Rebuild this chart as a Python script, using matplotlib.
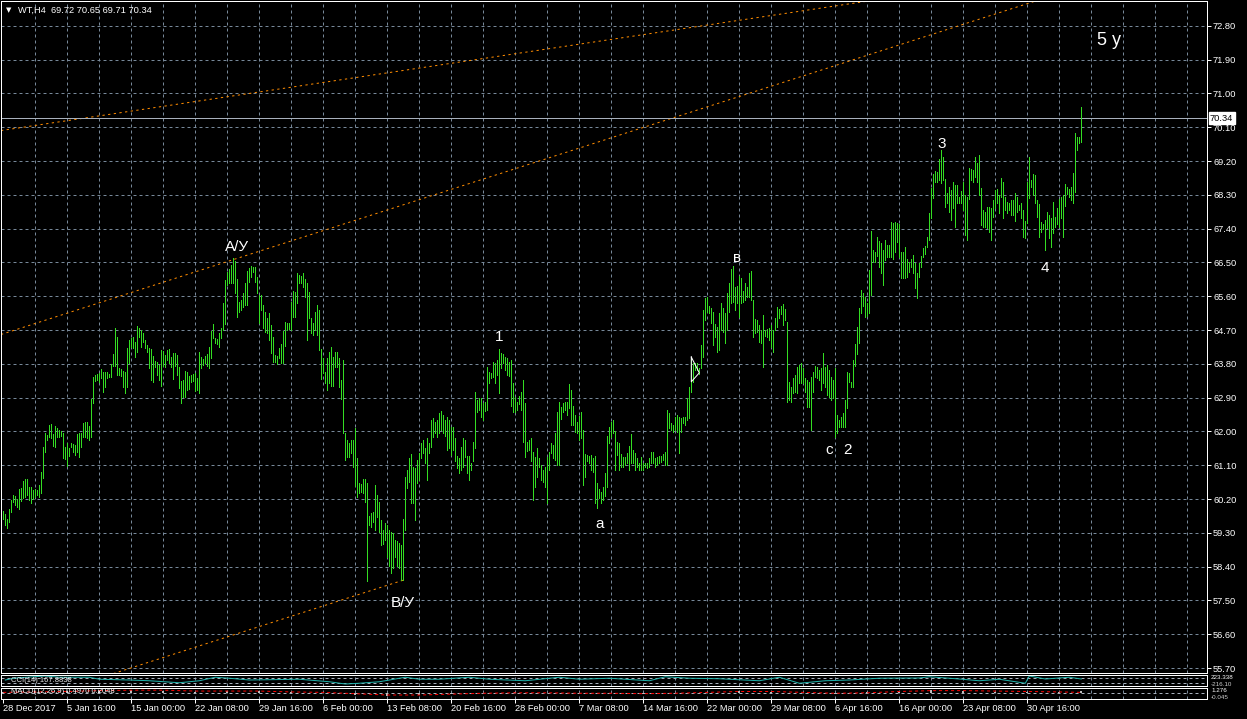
import matplotlib
matplotlib.use("Agg")
import matplotlib.pyplot as plt
import matplotlib.transforms as mtransforms

# ---- data (H4 bars) ----
bar_high = [
    59.88, 59.80, 59.67, 59.94, 60.18, 60.31, 60.28, 60.20, 60.47, 60.50, 60.68, 60.73, 60.73, 60.52, 60.52, 60.44,
    60.47, 60.44, 60.57, 60.92, 61.59, 61.96, 61.91, 62.17, 62.20, 61.93, 62.15, 62.09, 62.04, 62.01, 61.96, 61.59,
    61.69, 61.56, 61.69, 61.67, 61.64, 61.93, 61.96, 61.96, 62.23, 62.25, 62.25, 62.15, 62.87, 63.45, 63.50, 63.53,
    63.56, 63.66, 63.58, 63.58, 63.58, 63.53, 63.80, 64.06, 64.76, 64.52, 63.69, 63.66, 63.61, 63.58, 64.22, 64.44,
    64.49, 64.52, 64.38, 64.81, 64.76, 64.70, 64.62, 64.44, 64.30, 64.22, 64.20, 64.01, 63.88, 63.85, 63.77, 64.17,
    64.14, 64.04, 64.17, 64.20, 63.98, 64.09, 64.09, 64.04, 63.72, 63.35, 63.37, 63.61, 63.58, 63.48, 63.50, 63.53,
    63.56, 63.43, 64.12, 63.98, 63.93, 64.01, 64.06, 64.25, 64.68, 64.86, 64.49, 64.46, 64.62, 64.76, 65.42, 66.03,
    66.25, 66.33, 66.44, 66.62, 66.54, 66.06, 65.45, 65.50, 65.69, 65.96, 66.28, 66.36, 66.41, 66.38, 66.38, 66.12,
    65.64, 65.64, 65.37, 65.18, 65.02, 65.16, 64.84, 64.52, 64.04, 64.01, 64.22, 64.33, 64.68, 64.92, 64.89, 64.89,
    65.45, 65.74, 65.72, 66.22, 66.17, 66.14, 66.22, 66.06, 65.96, 65.72, 65.02, 64.89, 65.18, 65.37, 65.24, 64.20,
    63.96, 63.58, 63.96, 64.12, 64.25, 63.98, 64.12, 64.12, 63.96, 63.37, 63.90, 61.96, 61.77, 61.69, 61.77, 61.77,
    62.09, 61.29, 60.63, 60.60, 60.73, 60.73, 60.63, 59.75, 59.83, 59.86, 60.57, 60.31, 60.12, 59.64, 59.38, 59.56,
    59.51, 59.38, 59.32, 59.30, 59.11, 59.08, 59.03, 58.98, 59.67, 60.79, 60.97, 61.29, 61.40, 61.05, 61.03, 61.24,
    61.43, 61.69, 61.77, 61.56, 61.83, 61.69, 62.31, 62.36, 62.25, 62.31, 62.49, 62.55, 62.44, 62.31, 62.39, 62.31,
    62.12, 62.12, 61.83, 61.35, 61.29, 61.59, 61.83, 61.77, 61.35, 61.35, 61.16, 61.72, 63.05, 62.84, 62.89, 62.89,
    62.76, 62.79, 63.72, 63.58, 63.56, 63.85, 63.82, 63.90, 64.20, 64.09, 64.06, 63.98, 63.96, 63.85, 63.90, 63.29,
    62.92, 62.79, 62.95, 63.05, 63.37, 62.76, 61.72, 61.77, 61.83, 61.45, 61.32, 61.56, 61.29, 61.11, 60.97, 61.05,
    61.32, 61.45, 61.69, 61.64, 61.96, 62.52, 62.79, 62.65, 62.76, 62.79, 62.79, 63.27, 63.11, 62.68, 62.44, 62.25,
    62.41, 62.52, 62.04, 61.40, 61.37, 61.35, 61.37, 61.29, 61.35, 60.63, 60.47, 60.39, 60.52, 60.89, 61.88, 62.12,
    62.25, 62.31, 62.00, 61.72, 61.69, 61.40, 61.32, 61.32, 61.43, 61.61, 61.93, 61.51, 61.43, 61.29, 61.16, 61.32,
    61.16, 61.16, 61.16, 61.29, 61.45, 61.45, 61.29, 61.32, 61.35, 61.35, 61.40, 61.45, 62.57, 62.49, 62.23, 62.17,
    62.39, 62.44, 62.39, 62.36, 62.39, 62.39, 62.89, 63.19, 63.98, 63.82, 63.82, 63.82, 63.69, 64.30, 65.24, 65.56,
    65.58, 65.34, 65.29, 65.18, 64.86, 64.78, 65.16, 65.42, 65.29, 65.16, 65.69, 65.96, 66.33, 66.41, 65.85, 65.88,
    66.14, 66.09, 65.74, 65.96, 65.85, 66.22, 66.28, 65.50, 65.00, 64.97, 64.84, 64.70, 65.10, 64.70, 64.73, 64.76,
    64.84, 64.70, 65.02, 65.32, 65.26, 65.34, 65.40, 65.26, 64.92, 63.32, 63.19, 63.43, 63.50, 63.72, 63.77, 63.82,
    63.69, 63.43, 63.37, 63.32, 63.45, 63.58, 63.74, 63.72, 63.64, 63.69, 64.09, 63.72, 63.77, 63.64, 63.45, 63.37,
    63.69, 62.44, 62.31, 62.39, 62.49, 62.84, 63.58, 63.56, 63.32, 63.90, 64.33, 64.78, 65.29, 65.77, 65.69, 65.58,
    65.42, 66.30, 67.34, 66.84, 66.78, 67.18, 67.08, 67.02, 66.84, 67.10, 66.97, 66.97, 67.58, 67.55, 67.58, 67.55,
    67.53, 66.78, 66.78, 66.92, 66.60, 66.52, 66.60, 66.70, 66.49, 66.22, 66.49, 66.68, 66.89, 66.94, 67.18, 67.82,
    68.49, 68.86, 68.94, 68.92, 69.24, 69.50, 69.31, 68.73, 68.36, 68.51, 68.43, 68.65, 68.57, 68.57, 68.25, 68.41,
    68.65, 68.30, 68.25, 69.02, 69.00, 68.97, 69.31, 69.15, 69.37, 68.49, 67.90, 67.85, 67.98, 67.98, 67.95, 68.17,
    68.43, 68.46, 68.30, 68.75, 68.65, 68.25, 68.12, 68.09, 68.17, 68.17, 68.36, 68.25, 68.03, 68.09, 67.90, 67.61,
    68.65, 69.31, 68.70, 68.86, 68.84, 68.17, 68.06, 67.58, 67.53, 67.63, 67.85, 67.77, 67.69, 68.12, 67.71, 67.95,
    68.19, 68.25, 68.30, 68.59, 68.51, 68.46, 68.51, 68.89, 69.95, 69.85, 69.85, 70.65,
]
bar_low = [
    59.67, 59.50, 59.43, 59.59, 59.86, 60.12, 60.04, 59.99, 59.94, 60.15, 60.23, 60.26, 60.31, 60.18, 60.10, 60.20,
    60.26, 60.31, 60.26, 60.36, 60.76, 61.45, 61.77, 61.85, 61.83, 61.61, 61.59, 61.85, 61.85, 61.88, 61.29, 61.27,
    61.08, 61.35, 61.59, 61.45, 61.37, 61.45, 61.32, 61.59, 61.85, 61.85, 61.83, 61.77, 61.85, 62.76, 63.35, 63.37,
    63.32, 63.43, 63.05, 63.19, 63.43, 63.45, 63.45, 63.74, 63.74, 63.50, 63.50, 63.48, 63.19, 63.03, 63.19, 63.82,
    64.25, 64.22, 63.98, 64.12, 64.52, 64.25, 64.38, 64.22, 64.12, 63.69, 63.37, 63.32, 63.72, 63.50, 63.37, 63.21,
    63.74, 63.72, 63.90, 63.82, 63.72, 63.40, 63.74, 63.50, 63.16, 62.76, 62.92, 62.92, 63.11, 63.13, 63.32, 63.35,
    63.08, 63.11, 63.03, 63.69, 63.77, 63.82, 63.74, 63.69, 63.96, 64.49, 64.36, 64.33, 64.25, 64.49, 64.70, 64.86,
    65.90, 65.96, 65.96, 65.96, 65.69, 65.05, 65.18, 65.24, 65.32, 65.37, 65.37, 65.98, 66.12, 66.25, 65.98, 65.69,
    64.89, 65.24, 64.76, 64.65, 64.62, 64.44, 64.09, 63.85, 63.85, 63.80, 63.96, 63.82, 63.82, 64.28, 64.70, 64.73,
    64.70, 65.05, 65.05, 65.42, 65.96, 65.96, 65.85, 65.58, 64.44, 65.02, 64.62, 64.57, 64.70, 64.57, 64.17, 63.40,
    63.56, 63.29, 63.11, 63.29, 63.21, 63.21, 63.72, 63.72, 63.19, 62.87, 61.96, 61.24, 61.32, 61.32, 61.43, 61.05,
    60.55, 60.26, 60.36, 60.39, 60.36, 60.12, 58.02, 59.51, 59.46, 59.59, 59.38, 59.72, 59.32, 58.98, 59.00, 59.11,
    58.66, 58.42, 58.23, 58.36, 58.66, 58.42, 58.36, 58.04, 58.04, 59.38, 60.49, 60.65, 60.10, 60.10, 59.64, 60.63,
    60.71, 61.29, 61.43, 61.16, 60.71, 61.43, 61.59, 61.85, 61.96, 61.85, 61.96, 62.04, 61.96, 61.88, 61.51, 61.56,
    61.37, 61.51, 61.21, 61.03, 60.89, 60.97, 61.05, 61.32, 60.89, 60.71, 60.97, 61.21, 61.56, 62.52, 62.57, 62.39,
    62.31, 62.55, 62.57, 63.29, 63.43, 63.45, 63.29, 63.50, 63.03, 63.69, 63.82, 63.64, 63.50, 63.48, 62.68, 62.52,
    62.52, 62.57, 62.73, 62.57, 61.72, 61.32, 61.48, 61.51, 61.21, 60.18, 60.52, 60.79, 61.05, 60.71, 60.65, 60.52,
    60.10, 60.97, 61.43, 61.29, 61.24, 61.11, 61.11, 62.33, 62.52, 62.57, 62.44, 62.63, 62.17, 62.17, 61.99, 61.96,
    61.77, 61.83, 60.57, 60.79, 61.21, 61.16, 60.97, 60.92, 60.10, 59.96, 60.23, 60.10, 60.18, 60.28, 60.52, 61.69,
    61.85, 61.96, 60.98, 61.37, 60.97, 61.05, 61.05, 61.11, 61.16, 60.98, 61.16, 61.16, 60.98, 61.05, 60.98, 60.98,
    60.98, 61.05, 61.03, 61.05, 61.16, 61.16, 61.05, 61.11, 61.16, 61.19, 61.24, 61.11, 61.11, 62.09, 62.04, 61.99,
    62.04, 61.99, 61.43, 61.99, 62.23, 62.17, 62.31, 62.36, 63.05, 63.32, 63.64, 63.64, 63.53, 63.69, 63.98, 64.97,
    65.18, 65.16, 64.89, 64.30, 64.52, 64.12, 64.17, 64.70, 64.65, 64.36, 64.70, 65.18, 65.42, 65.45, 65.24, 65.42,
    65.05, 65.42, 65.45, 65.50, 65.58, 65.58, 65.50, 64.52, 64.62, 64.65, 64.38, 64.36, 63.72, 64.54, 64.52, 64.44,
    64.25, 64.12, 64.70, 64.78, 65.02, 65.13, 64.84, 64.97, 62.79, 62.84, 62.79, 63.03, 63.05, 63.03, 63.29, 63.29,
    63.29, 63.05, 62.65, 62.65, 62.04, 63.05, 63.45, 63.43, 63.37, 63.11, 63.29, 63.19, 62.97, 62.92, 62.84, 62.89,
    61.85, 61.96, 62.12, 62.12, 62.12, 62.12, 62.63, 63.32, 63.19, 63.19, 63.74, 64.06, 64.36, 65.16, 65.34, 65.05,
    65.08, 65.16, 65.64, 66.52, 66.52, 66.68, 66.38, 66.22, 65.90, 66.57, 66.65, 66.65, 66.65, 66.60, 66.78, 67.05,
    66.65, 66.09, 66.09, 66.09, 66.12, 66.25, 66.38, 66.22, 65.82, 65.56, 66.12, 66.38, 66.65, 66.73, 66.92, 67.10,
    67.69, 68.22, 68.65, 68.65, 68.70, 68.62, 68.70, 67.98, 68.09, 67.85, 67.63, 67.95, 67.45, 68.09, 68.09, 68.09,
    67.90, 67.24, 67.10, 68.19, 68.70, 68.65, 68.78, 68.65, 68.30, 67.50, 67.45, 67.45, 67.42, 67.32, 67.10, 67.71,
    67.95, 68.09, 67.82, 68.25, 67.69, 67.90, 67.82, 67.90, 67.77, 67.77, 67.61, 67.85, 67.90, 67.69, 67.18, 67.15,
    67.55, 68.22, 68.51, 68.30, 68.09, 67.71, 67.18, 67.32, 67.40, 66.84, 67.42, 67.15, 66.92, 67.29, 67.45, 67.53,
    67.45, 67.69, 67.18, 68.01, 68.33, 68.25, 68.17, 68.09, 68.38, 69.50, 69.69, 69.71,
]
last_price = 70.34
header = "WT,H4  69.72 70.65 69.71 70.34"

price_ticks = [55.70, 56.60, 57.50, 58.40, 59.30, 60.20, 61.10, 62.00, 62.90, 63.80,
               64.70, 65.60, 66.50, 67.40, 68.30, 69.20, 70.10, 71.00, 71.90, 72.80]
date_labels = ["28 Dec 2017", "5 Jan 16:00", "15 Jan 00:00", "22 Jan 08:00", "29 Jan 16:00",
               "6 Feb 00:00", "13 Feb 08:00", "20 Feb 16:00", "28 Feb 00:00", "7 Mar 08:00",
               "14 Mar 16:00", "22 Mar 00:00", "29 Mar 08:00", "6 Apr 16:00", "16 Apr 00:00",
               "23 Apr 08:00", "30 Apr 16:00"]
date_label_bars = [32 * k for k in range(len(date_labels))]

# trend lines drawn on the chart (bar index, price)
channel_bars, channel_prices = [0, 540], [64.60, 73.87]
top_line_bars, top_line_prices = [0, 435], [70.02, 73.48]
low_line_bars, low_line_prices = [55, 200], [55.55, 58.04]
flag_bars, flag_prices = [344, 348, 344, 344], [63.98, 63.56, 63.32, 63.98]

# wave labels (text, bar, price)
wave_labels = [("A/У", 117, 66.91), ("B/У", 200, 57.43), ("1", 248, 64.52), ("a", 298, 59.54),
               ("в", 367, 66.62), ("c", 413, 61.51), ("2", 422, 61.51), ("3", 469, 69.66),
               ("4", 521, 66.36)]

# CCI(14) line, sparse readings (bar, value)
cci_bars = [1, 6, 21, 28, 43, 48, 63, 73, 88, 98, 106, 113, 123, 148, 163, 171, 178, 188, 201,
            208, 218, 233, 243, 261, 278, 288, 303, 323, 331, 343, 358, 378, 388, 398, 411,
            423, 438, 458, 463, 478, 488, 498, 511, 513, 521, 533, 539]
cci_vals = [20, 100, 180, 130, 130, 50, 20, -10, -90, -10, 130, 90, 20, 50, -50, -140, -110, -50, 130,
            50, 50, 130, 50, -10, 130, 50, 90, -10, 150, 90, 70, -10, 130, -110, -10,
            20, 90, 100, 150, 60, -10, 50, -110, 180, 60, 130, 60]

# MACD(12,26,9), sparse readings (bar, value)
macd_bars = [0, 16, 32, 48, 64, 80, 96, 112, 128, 144, 160, 176, 192, 208, 224, 240, 256, 272,
             288, 304, 320, 336, 352, 368, 384, 400, 416, 432, 448, 464, 480, 496, 512, 528, 539]
macd_hist = [0.3, 0.5, 0.6, 0.7, 0.8, 0.6, 0.4, 0.6, 0.5, 0.2, 0.1, -0.3, -0.6, -0.4, -0.1, 0.1,
             0.2, 0.0, -0.1, 0.0, -0.1, 0.1, 0.4, 0.6, 0.4, 0.1, -0.1, 0.3, 0.6, 0.8, 0.6, 0.4,
             0.3, 0.4, 0.5]
macd_signal = [0.2, 0.3, 0.4, 0.6, 0.7, 0.7, 0.5, 0.5, 0.5, 0.3, 0.2, -0.1, -0.4, -0.4, -0.2, 0.0,
               0.1, 0.1, 0.0, 0.0, -0.1, 0.0, 0.2, 0.4, 0.4, 0.2, 0.0, 0.1, 0.4, 0.6, 0.6, 0.5,
               0.4, 0.3, 0.2]

# ---- style ----
W, H, DPI = 1247, 719, 100
PX = 72.0 / DPI  # one pixel in points
BG = "#000000"
FG = "#ffffff"
BAR_COLOR = "#33dd22"
GRID_COLOR = "#778899"
LEVEL_COLOR = "#a8b0bc"
ORANGE = "#ff8c00"
SCALE_FONT = ["Liberation Sans", "DejaVu Sans"]
SCALE_SIZE = 6.7
plt.rcParams["lines.scale_dashes"] = False
plt.rcParams["font.family"] = SCALE_FONT
GRID_DASH = (0, (3 * PX, 3 * PX))
ORANGE_DASH = (0, (2.3 * PX, 3.4 * PX))

XMIN, XMAX = (1 - 3.3) / 2, (1207 - 3.3) / 2
PRICE_PER_PX = 0.9 / 33.8
YMIN = 55.70 - 4.5 * PRICE_PER_PX
YMAX = 55.70 + 667 * PRICE_PER_PX


def axes_px(fig, x0, y0, x1, y1):
    """Axes placed by pixel box (top-left origin)."""
    return fig.add_axes([x0 / W, 1 - y1 / H, (x1 - x0) / W, (y1 - y0) / H])


def style_panel(ax):
    ax.set_facecolor(BG)
    for s in ax.spines.values():
        s.set_color(FG)
        s.set_linewidth(PX)
    ax.set_xlim(XMIN, XMAX)
    ax.tick_params(axis="x", which="both", bottom=False, labelbottom=False)
    for b in range(16, 600, 16):
        ax.axvline(b, color=GRID_COLOR, lw=PX, ls=GRID_DASH, zorder=0)


fig = plt.figure(figsize=(W / DPI, H / DPI), dpi=DPI, facecolor=BG)

# ---- main price panel ----
ax = axes_px(fig, 1, 1, 1207, 672.5)
style_panel(ax)
ax.set_ylim(YMIN, YMAX)
for p in price_ticks:
    ax.axhline(p, color=GRID_COLOR, lw=PX, ls=GRID_DASH, zorder=0)
ax.yaxis.tick_right()
ax.set_yticks(price_ticks)
ax.set_yticklabels([f"{p:.2f}" for p in price_ticks])
ax.tick_params(axis="y", colors=FG, labelcolor=FG, labelsize=SCALE_SIZE, length=4 * PX,
               width=PX, pad=2 * PX)

ax.axline((channel_bars[0], channel_prices[0]), (channel_bars[1], channel_prices[1]),
          color=ORANGE, lw=PX, ls=ORANGE_DASH, zorder=1)
ax.axline((top_line_bars[0], top_line_prices[0]), (top_line_bars[1], top_line_prices[1]),
          color=ORANGE, lw=PX, ls=ORANGE_DASH, zorder=1)
ax.plot(low_line_bars, low_line_prices, color=ORANGE, lw=PX, ls=ORANGE_DASH, zorder=1)

ax.axhline(last_price, color=LEVEL_COLOR, lw=PX, zorder=1)

idx = list(range(len(bar_high)))
ax.vlines(idx, bar_low, bar_high, color=BAR_COLOR, lw=PX, antialiased=False, zorder=2)
ax.plot(flag_bars, flag_prices, color=FG, lw=PX, zorder=3)

for txt, b, p in wave_labels:
    ax.text(b, p, txt, color=FG, fontsize=11, ha="center", va="center", zorder=4)
ax.text(553, 72.40, "5 y", color=FG, fontsize=13, ha="center", va="center", zorder=4)

# current price box on the scale
trans = mtransforms.blended_transform_factory(ax.transAxes, ax.transData)
ax.text(1.0 + 3 / 1206, last_price, f"{last_price:.2f}", transform=trans, fontsize=SCALE_SIZE,
        color="#000000", ha="left", va="center", clip_on=False, zorder=5,
        bbox=dict(boxstyle="square,pad=0.15", facecolor=FG, edgecolor=FG))

fig.text(18 / W, 1 - 10 / H, header, color=FG, fontsize=SCALE_SIZE, ha="left", va="center")
fig.text(9 / W, 1 - 10 / H, "▼", color=FG, fontsize=5, ha="center", va="center",
         family=["DejaVu Sans"])

# ---- CCI panel ----
ax_cci = axes_px(fig, 1, 675, 1207, 686)
style_panel(ax_cci)
ax_cci.set_ylim(-220, 220)
ax_cci.set_yticks([])
for lvl in (100, -100):
    ax_cci.axhline(lvl, color=LEVEL_COLOR, lw=PX, ls=GRID_DASH, zorder=0)
ax_cci.plot(cci_bars, cci_vals, color="#20b2aa", lw=PX, zorder=2)
ax_cci.text(4, 140, "CCI(14) 167.8838", color=FG, fontsize=5.5, ha="left", va="top", alpha=0.9)
ax_cci.text(1.0 + 4 / 1206, 0.78, "223.338", transform=ax_cci.transAxes, fontsize=4.5,
            color=FG, ha="left", va="center", clip_on=False)
ax_cci.text(1.0 + 4 / 1206, 0.12, "-216.10", transform=ax_cci.transAxes, fontsize=4.5,
            color=FG, ha="left", va="center", clip_on=False, alpha=0.8)

# ---- MACD panel ----
ax_macd = axes_px(fig, 1, 688, 1207, 698.5)
style_panel(ax_macd)
ax_macd.set_ylim(-1.2, 1.2)
ax_macd.set_yticks([])
ax_macd.axhline(0, color=LEVEL_COLOR, lw=PX, ls=GRID_DASH, zorder=0)
ax_macd.bar(macd_bars, macd_hist, width=1.0, color="#c0c0c0", zorder=2)
ax_macd.plot(macd_bars, macd_signal, color="#ff0000", lw=PX, ls=GRID_DASH, zorder=3)
ax_macd.text(4, 1.1, "MACD(12,26,9) 0.4970 0.2048", color=FG, fontsize=5.5, ha="left", va="top")
ax_macd.text(1.0 + 4 / 1206, 0.8, "1.276", transform=ax_macd.transAxes, fontsize=4.5,
             color=FG, ha="left", va="center", clip_on=False)
ax_macd.text(1.0 + 4 / 1206, 0.1, "-0.045", transform=ax_macd.transAxes, fontsize=4.5,
             color=FG, ha="left", va="center", clip_on=False, alpha=0.8)

# date scale under the last panel
ax_macd.set_xticks(date_label_bars)
ax_macd.set_xticklabels(date_labels, ha="left")
ax_macd.tick_params(axis="x", bottom=True, labelbottom=True, colors=FG, labelcolor=FG,
                    labelsize=SCALE_SIZE, length=4 * PX, width=PX, pad=1)

fig.savefig("out.png", dpi=DPI, facecolor=BG)
